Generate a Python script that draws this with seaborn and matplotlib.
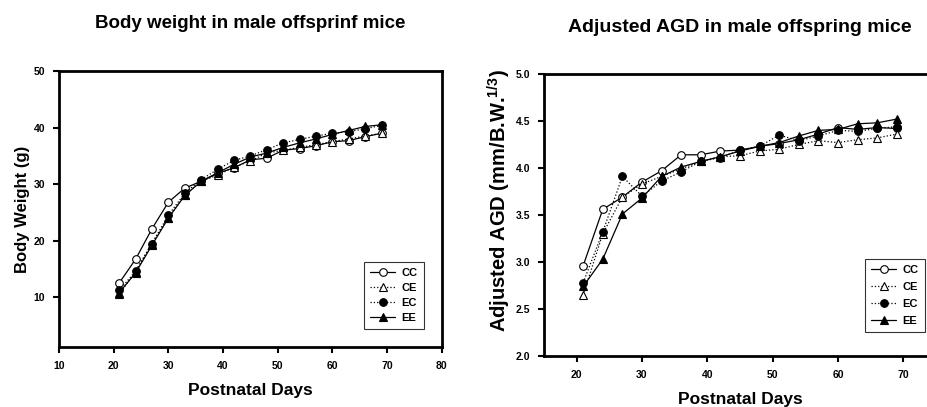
import pandas as pd
import matplotlib
matplotlib.use('Agg')
import matplotlib.pyplot as plt
import seaborn as sns

# Data
days = [21, 24, 27, 30, 33, 36, 39, 42, 45, 48, 51, 54, 57, 60, 63, 66, 69]
groups = ['CC', 'CE', 'EC', 'EE']

bw_cc = [12.5, 16.7, 22.1, 26.8, 29.3, 30.5, 31.9, 32.9, 34.3, 34.6, 36.0, 36.3, 36.8, 37.5, 37.7, 38.4, 39.0]
bw_ce = [10.5, 14.5, 19.5, 24.0, 28.0, 30.5, 31.6, 33.0, 34.1, 35.5, 36.0, 36.5, 37.0, 37.5, 38.0, 38.5, 39.0]
bw_ec = [11.2, 14.6, 19.5, 24.5, 28.4, 30.8, 32.6, 34.2, 35.0, 36.1, 37.3, 37.9, 38.5, 39.0, 39.3, 39.8, 40.4]
bw_ee = [10.8, 14.3, 19.2, 24.0, 28.0, 30.5, 32.0, 33.5, 34.8, 35.5, 36.5, 37.3, 38.0, 38.8, 39.5, 40.2, 40.5]

agd_cc = [2.96, 3.56, 3.69, 3.85, 3.97, 4.14, 4.14, 4.18, 4.19, 4.23, 4.26, 4.30, 4.36, 4.43, 4.41, 4.43, 4.42]
agd_ce = [2.65, 3.30, 3.69, 3.83, 3.91, 3.99, 4.07, 4.12, 4.13, 4.18, 4.20, 4.25, 4.29, 4.27, 4.30, 4.32, 4.36]
agd_ec = [2.78, 3.32, 3.91, 3.70, 3.86, 3.96, 4.07, 4.11, 4.19, 4.23, 4.35, 4.29, 4.34, 4.40, 4.39, 4.42, 4.44]
agd_ee = [2.74, 3.03, 3.51, 3.68, 3.91, 4.01, 4.07, 4.12, 4.18, 4.23, 4.27, 4.34, 4.40, 4.41, 4.47, 4.48, 4.52]

sns.set_style('ticks')
plt.rcParams['font.family'] = ['Liberation Sans', 'DejaVu Sans']
plt.rcParams['font.weight'] = 'bold'
plt.rcParams['text.color'] = 'black'
plt.rcParams['axes.labelcolor'] = 'black'
plt.rcParams['xtick.color'] = 'black'
plt.rcParams['ytick.color'] = 'black'
plt.rcParams['axes.edgecolor'] = 'black'
plt.rcParams['mathtext.fontset'] = 'custom'
plt.rcParams['mathtext.bf'] = 'Liberation Sans:bold'
plt.rcParams['mathtext.rm'] = 'Liberation Sans:bold'

styles = {
    'CC': dict(marker='o', linestyle='-', mfc='white'),
    'CE': dict(marker='^', linestyle=':', mfc='white'),
    'EC': dict(marker='o', linestyle=':', mfc='black'),
    'EE': dict(marker='^', linestyle='-', mfc='black'),
}

fig = plt.figure(figsize=(9.27, 4.07), dpi=100)
ax1 = fig.add_axes([0.0636, 0.1474, 0.413, 0.678])
ax2 = fig.add_axes([0.5868, 0.1253, 0.4229, 0.693])


def draw(ax, series):
    for g, vals in zip(groups, series):
        st = styles[g]
        sns.lineplot(x=days, y=vals, ax=ax, color='black', linewidth=0.9,
                     marker=st['marker'], linestyle=st['linestyle'],
                     markerfacecolor=st['mfc'], markeredgecolor='black',
                     markersize=5.5, markeredgewidth=0.8, label=g)
    for s in ax.spines.values():
        s.set_linewidth(2)
    ax.tick_params(direction='out', length=4, width=1.5, labelsize=7.5, pad=6)
    for lab in ax.get_xticklabels() + ax.get_yticklabels():
        lab.set_fontweight('bold')


def legend(ax, anchor, spacing):
    leg = ax.legend(loc='lower right', bbox_to_anchor=anchor,
                    prop={'weight': 'bold', 'size': 8}, frameon=True, fancybox=False,
                    edgecolor='black', handlelength=2.2, handletextpad=0.6,
                    borderpad=0.55, labelspacing=spacing)
    leg.get_frame().set_linewidth(0.8)


draw(ax1, [bw_cc, bw_ce, bw_ec, bw_ee])
ax1.set_xlim(10, 80)
ax1.set_ylim(1.2, 50)
ax1.set_xticks(range(10, 81, 10))
ax1.set_yticks(range(10, 51, 10))
ax1.set_xlabel('Postnatal Days', fontsize=12.5, fontweight='bold', labelpad=9)
ax1.set_ylabel('Body Weight (g)', fontsize=12, fontweight='bold')
ax1.yaxis.set_label_coords(-0.076, 0.5)
ax1.set_title('Body weight in male offsprinf mice', fontsize=13.5, fontweight='bold', pad=31)
legend(ax1, (0.967, 0.045), 0.45)

draw(ax2, [agd_cc, agd_ce, agd_ec, agd_ee])
ax2.set_xlim(15, 75)
ax2.set_ylim(2.0, 5.0)
ax2.set_xticks(range(20, 71, 10))
ax2.set_yticks([2.0, 2.5, 3.0, 3.5, 4.0, 4.5, 5.0])
ax2.set_yticklabels(['2.0', '2.5', '3.0', '3.5', '4.0', '4.5', '5.0'], fontweight='bold')
ax2.set_xlabel('Postnatal Days', fontsize=12.5, fontweight='bold', labelpad=9)
ax2.set_ylabel('Adjusted AGD (mm/B.W.$^{\\mathbf{1/3}}$)', fontsize=14.5, fontweight='bold')
ax2.yaxis.set_label_coords(-0.08, 0.55)
ax2.set_title('Adjusted AGD in male offspring mice', fontsize=14, fontweight='bold', pad=30)
legend(ax2, (0.985, 0.065), 0.62)

fig.savefig('out.png', dpi=100, facecolor='white')
plt.close(fig)
